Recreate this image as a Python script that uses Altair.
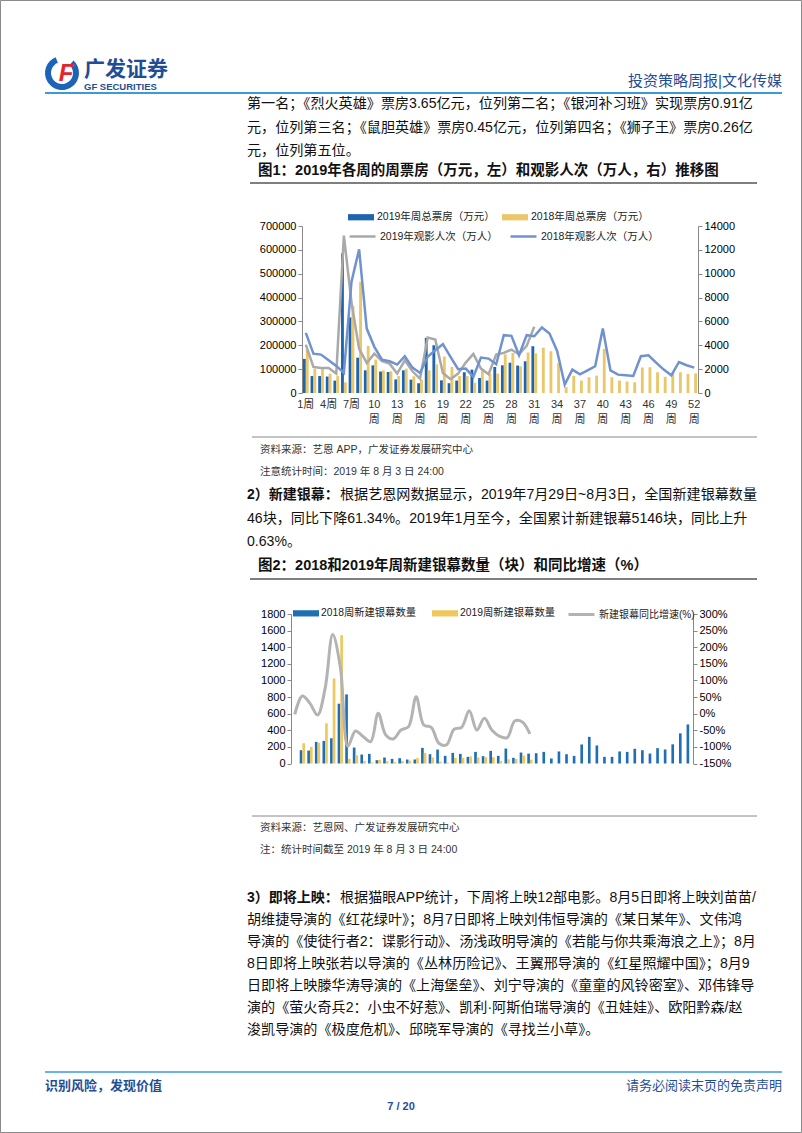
import altair as alt
import pandas as pd

FONT = "Liberation Sans, Noto Sans CJK SC, sans-serif"
W, H = 802, 1133

# ---------------- Chart 1 data ----------------
weeks = list(range(1, 53))
box2019 = [143000, 71000, 71000, 69000, 52000, 585000, 317000, 148000, 95000, 116000,
           90000, 88000, 57000, 95000, 56000, 41000, 231000, 200000, 53000, 41000,
           52000, 87000, 98000, 63000, 52000, 109000, 116000, 127000, 115000, 133000, 196000]
box2018 = [180000, 102000, 102000, 81000, 71000, 45000, 364000, 466000, 197000, 140000,
           95000, 91000, 71000, 102000, 70000, 56000, 95000, 120000, 153000, 109000,
           71000, 71000, 43000, 98000, 81000, 81000, 162000, 168000, 112000, 170000,
           166000, 190000, 175000, 125000, 25000, 72000, 52000, 66000, 73000, 185000,
           66000, 52000, 48000, 45000, 107000, 108000, 87000, 68000, 85000, 87000, 80000, 82000]
aud2019 = [4060, 2185, 2100, 2100, 1625, 13200, 7600, 3700, 2520, 3300, 2660, 2460, 1625,
           2745, 1820, 1200, 4650, 4480, 1680, 1150, 1625, 2550, 3280, 2045, 1570, 3220,
           3360, 3640, 3250, 3950, 5550]
aud2018 = [5040, 3300, 3220, 2745, 2270, 1680, 9330, 12045, 5400, 3870, 2800, 2660, 2380,
           3080, 2130, 1680, 3030, 3585, 4090, 3030, 1990, 2045, 1345, 2970, 2885, 2410,
           4850, 4790, 3165, 4850, 4760, 5490, 4990, 3530, 700, 1960, 1570, 1900, 2240,
           5400, 1900, 1540, 1485, 1430, 3080, 3165, 2550, 1960, 1485, 2600, 2325, 2130]
week_ticks1 = [1, 4, 7, 10, 13, 16, 19, 22, 25, 28, 31, 34, 37, 40, 43, 46, 49, 52]
tick_line1 = ["1周", "4周", "7周", "10", "13", "16", "19", "22", "25", "28", "31", "34",
              "37", "40", "43", "46", "49", "52"]
tick_line2 = ["", "", "", "周", "周", "周", "周", "周", "周", "周", "周", "周", "周", "周",
              "周", "周", "周", "周"]
S_B19, S_B18 = "2019年周总票房（万元）", "2018年周总票房（万元）"
S_L19, S_L18 = "2019年观影人次（万人）", "2018年观影人次（万人）"

# ---------------- Chart 2 data ----------------
cats2 = ["周度"] + [f"{k}-W" for k in range(1, 53)]
cat_labels2 = ["周度", "3-W", "6-W", "9-W", "12-W", "15-W", "18-W", "21-W", "24-W", "27-W",
               "30-W", "33-W", "36-W", "39-W", "42-W", "45-W", "48-W", "51-W"]
screens2018 = [160, 156, 260, 272, 304, 720, 832, 192, 108, 116, 40, 72, 56, 64, 48, 48,
               188, 112, 168, 92, 128, 116, 80, 140, 88, 152, 92, 180, 68, 132, 119, 124,
               140, 60, 145, 112, 92, 229, 321, 217, 80, 80, 145, 140, 177, 160, 120, 185,
               169, 231, 363, 470]
screens2019 = [244, 200, 250, 484, 1024, 1544, 56, 100, 32, 12, 44, 28, 18, 32, 35, 65,
               128, 72, 24, 10, 68, 68, 85, 72, 76, 76, 30, 50, 55, 95, 46]
yoy = [-2, 53, 31, -4, 76, 238, 141, -98, -52, -69, -84, 1, -64, -76, -49, -39, 51, -34,
       -41, -89, -94, -47, -41, 9, -49, -14, -50, -68, -72, -22, -25, -61]
S_S18, S_S19, S_YOY = "2018周新建银幕数量", "2019周新建银幕数量", "新建银幕同比增速(%)"

# ---------------- page text ----------------
para1 = ["第一名；《烈火英雄》票房3.65亿元，位列第二名；《银河补习班》实现票房0.91亿",
         "元，位列第三名；《鼠胆英雄》票房0.45亿元，位列第四名；《狮子王》票房0.26亿",
         "元，位列第五位。"]
para2_head = "2）新建银幕："
para2 = ["根据艺恩网数据显示，2019年7月29日~8月3日，全国新建银幕数量",
         "46块，同比下降61.34%。2019年1月至今，全国累计新建银幕5146块，同比上升",
         "0.63%。"]
para3_head = "3）即将上映："
para3 = ["根据猫眼APP统计，下周将上映12部电影。8月5日即将上映刘苗苗/",
         "胡维捷导演的《红花绿叶》；8月7日即将上映刘伟恒导演的《某日某年》、文伟鸿",
         "导演的《使徒行者2：谍影行动》、汤浅政明导演的《若能与你共乘海浪之上》；8月",
         "8日即将上映张若以导演的《丛林历险记》、王翼邢导演的《红星照耀中国》；8月9",
         "日即将上映滕华涛导演的《上海堡垒》、刘宁导演的《童童的风铃密室》、邓伟锋导",
         "演的《萤火奇兵2：小虫不好惹》、凯利·阿斯伯瑞导演的《丑娃娃》、欧阳黔森/赵",
         "浚凯导演的《极度危机》、邱晓军导演的《寻找兰小草》。"]
fig1_title = "图1：2019年各周的周票房（万元，左）和观影人次（万人，右）推移图"
fig2_title = "图2：2018和2019年周新建银幕数量（块）和同比增速（%）"

NAVY = "#1f4e96"
LBLUE = "#3c9ad6"
BODY = "#111111"

# text rows: (text, x, y, size, color)
normal_left = []
for t, y in zip(para1, [104, 128, 151]):
    normal_left.append((t, 247, y, 14.1, BODY))
normal_left.append((para2[0], 340, 495, 14.1, BODY))
normal_left.append((para2[1], 247, 519, 14.1, BODY))
normal_left.append((para2[2], 247, 542, 14.1, BODY))
normal_left.append((para3[0], 340, 898, 14.1, BODY))
for t, y in zip(para3[1:], [920, 942, 964, 986, 1008, 1030]):
    normal_left.append((t, 247, y, 14.1, BODY))
normal_left += [
    ("资料来源：艺恩 APP，广发证券发展研究中心", 260, 450, 10.5, "#333333"),
    ("注意统计时间：2019 年 8 月 3 日 24:00", 260, 472, 10.5, "#333333"),
    ("资料来源：艺恩网、广发证券发展研究中心", 260, 828, 10.5, "#333333"),
    ("注：统计时间截至 2019 年 8 月 3 日 24:00", 260, 850, 10.5, "#333333"),
]
bold_left = [
    (fig1_title, 258, 171, 14.5, "#111111"),
    (fig2_title, 258, 566, 14.5, "#111111"),
    (para2_head, 247, 495, 14, "#111111"),
    (para3_head, 247, 898, 14, "#111111"),
    ("广发证券", 84, 70, 21, NAVY),
    ("GF SECURITIES", 84, 87, 9.5, NAVY),
    ("识别风险，发现价值", 45, 1086, 13, NAVY),
]
right_text = [
    ("投资策略周报|文化传媒", 782, 81, 15, NAVY),
    ("请务必阅读末页的免责声明", 782, 1086, 13, NAVY),
]
center_bold = [("7 / 20", 401, 1107, 11, NAVY)]

rules = [  # x, x2, y, y2, color, width
    (45, 782, 93, 93, LBLUE, 2),
    (250, 757, 183, 183, "#555555", 1.5),
    (252, 757, 437, 437, "#888888", 1),
    (250, 757, 579, 579, "#555555", 1.5),
    (252, 757, 816, 816, "#888888", 1),
    (45, 782, 1072, 1072, LBLUE, 1.5),
]


def text_layer(rows, align, weight):
    df = pd.DataFrame(rows, columns=["text", "x", "y", "size", "color"])
    return alt.Chart(df).mark_text(align=align, baseline="middle", font=FONT,
                                   fontWeight=weight).encode(
        x=alt.X("x:Q", scale=None, axis=None),
        y=alt.Y("y:Q", scale=None, axis=None),
        text="text:N",
        size=alt.Size("size:Q", scale=None, legend=None),
        color=alt.Color("color:N", scale=None, legend=None),
    )


rule_df = pd.DataFrame(rules, columns=["x", "x2", "y", "y2", "color", "w"])
rule_layer = alt.Chart(rule_df).mark_rule().encode(
    x=alt.X("x:Q", scale=None, axis=None), x2="x2:Q",
    y=alt.Y("y:Q", scale=None, axis=None), y2="y2:Q",
    color=alt.Color("color:N", scale=None, legend=None),
    strokeWidth=alt.StrokeWidth("w:Q", scale=None, legend=None),
)

frame = alt.Chart(pd.DataFrame({"a": [0]})).mark_rect(
    fill="white", fillOpacity=0, stroke="#8a8a8a", strokeWidth=1).encode(
    x=alt.value(0.5), x2=alt.value(801.5), y=alt.value(0.5), y2=alt.value(1132.5))

logo_arc = alt.Chart(pd.DataFrame({"a": [0]})).mark_arc(
    theta=0.75, theta2=5.9, radius=17, radius2=11, color="#1d63b8").encode(
    x=alt.value(62), y=alt.value(73))
logo_f = alt.Chart(pd.DataFrame({"a": [0]})).mark_text(
    text="F", font=FONT, fontWeight="bold", fontStyle="italic", fontSize=24,
    color="#e3262c", align="center", baseline="middle").encode(
    x=alt.value(66), y=alt.value(74))

# ---------------- Chart 1 ----------------
c1_x0, c1_x1, c1_y0, c1_y1 = 302, 698, 393, 226
bars1 = pd.DataFrame({
    "week": weeks[:31] + weeks,
    "series": [S_B19] * 31 + [S_B18] * 52,
    "value": box2019 + box2018,
})
lines1 = pd.DataFrame({
    "week": weeks[:31] + weeks,
    "series": [S_L19] * 31 + [S_L18] * 52,
    "value": aud2019 + aud2018,
})
ticks1 = pd.DataFrame({"week": week_ticks1, "l1": tick_line1, "l2": tick_line2})
x1_scale = alt.Scale(domain=weeks, range=[c1_x0, c1_x1], paddingInner=0.25, paddingOuter=0.125)

bar_symbol = "M-1,-0.24H1V0.24H-1Z"

c1_bars = alt.Chart(bars1).mark_bar().encode(
    x=alt.X("week:O", scale=x1_scale, title=None,
            axis=alt.Axis(orient="bottom", offset=c1_y0 - H, values=week_ticks1,
                          labels=False, tickSize=3,
                          domainColor="#888888", tickColor="#888888")),
    xOffset=alt.XOffset("series:N", scale=alt.Scale(domain=[S_B19, S_B18])),
    y=alt.Y("value:Q", title=None,
            scale=alt.Scale(domain=[0, 700000], range=[c1_y0, c1_y1], nice=False),
            axis=alt.Axis(orient="left", offset=-c1_x0, values=list(range(0, 700001, 100000)),
                          format="d", grid=False, tickSize=4, labelFontSize=11)),
    fill=alt.Fill("series:N", scale=alt.Scale(domain=[S_B19, S_B18], range=["#1f65ad", "#e9c76a"]),
                  legend=alt.Legend(orient="none", legendX=348, legendY=204, direction="horizontal",
                                    title=None, symbolType=bar_symbol, symbolSize=676,
                                    symbolStrokeWidth=0, labelFontSize=10.5, labelOffset=3,
                                    columnPadding=7, labelFont=FONT, labelColor="#222")),
)
c1_lines = alt.Chart(lines1).mark_line(strokeWidth=2.5).encode(
    x=alt.X("week:O", scale=x1_scale, axis=None),
    y=alt.Y("value:Q", title=None,
            scale=alt.Scale(domain=[0, 14000], range=[c1_y0, c1_y1], nice=False),
            axis=alt.Axis(orient="right", offset=c1_x1 - W, values=list(range(0, 14001, 2000)),
                          format="d", grid=False, tickSize=4, labelFontSize=11)),
    stroke=alt.Stroke("series:N", scale=alt.Scale(domain=[S_L19, S_L18], range=["#a9a9a9", "#7092cf"]),
                      legend=alt.Legend(orient="none", legendX=348, legendY=222, direction="horizontal",
                                        title=None, symbolType="stroke", symbolSize=676,
                                        symbolStrokeWidth=2.5, labelFontSize=10.5, labelOffset=3,
                                        columnPadding=7, labelFont=FONT, labelColor="#222")),
)
c1_lab1 = alt.Chart(ticks1).mark_text(font=FONT, fontSize=11, color="#333333",
                                      baseline="middle", align="center").encode(
    x=alt.X("week:O", scale=x1_scale, axis=None), y=alt.value(405), text="l1:N")
c1_lab2 = alt.Chart(ticks1).mark_text(font=FONT, fontSize=11, color="#333333",
                                      baseline="middle", align="center").encode(
    x=alt.X("week:O", scale=x1_scale, axis=None), y=alt.value(420), text="l2:N")
chart1 = alt.layer(c1_bars, c1_lines, c1_lab1, c1_lab2).resolve_scale(y="independent")

# ---------------- Chart 2 ----------------
c2_x0, c2_x1, c2_y0, c2_y1 = 291, 693, 763.5, 614
bars2 = pd.DataFrame({
    "cat": cats2[1:] + cats2[1:32],
    "series": [S_S18] * 52 + [S_S19] * 31,
    "value": screens2018 + screens2019,
})
line2 = pd.DataFrame({"cat": cats2[:32], "series": [S_YOY] * 32, "value": yoy})
x2_scale = alt.Scale(domain=cats2, range=[c2_x0, c2_x1], paddingInner=0.3, paddingOuter=0.15)
shown = "[" + ",".join(f"'{c}'" for c in cat_labels2) + "]"
label2 = f"indexof({shown}, datum.value) >= 0 ? datum.value : ''"

c2_bars = alt.Chart(bars2).mark_bar().encode(
    x=alt.X("cat:N", scale=x2_scale, sort=cats2, title=None,
            axis=alt.Axis(orient="bottom", offset=c2_y0 - H, labelExpr=label2, labelAngle=315,
                          labelAlign="right", labelBaseline="middle", labelFontSize=11,
                          labelOverlap=False, tickSize=4, labelPadding=2,
                          domainColor="#555555", tickColor="#555555")),
    xOffset=alt.XOffset("series:N", scale=alt.Scale(domain=[S_S18, S_S19])),
    y=alt.Y("value:Q", title=None,
            scale=alt.Scale(domain=[0, 1800], range=[c2_y0, c2_y1], nice=False),
            axis=alt.Axis(orient="left", offset=-c2_x0, values=list(range(0, 1801, 200)),
                          format="d", grid=False, tickSize=4, labelFontSize=11)),
    fill=alt.Fill("series:N", scale=alt.Scale(domain=[S_S18, S_S19], range=["#1f6fb5", "#f0c75e"]),
                  legend=alt.Legend(orient="none", legendX=293, legendY=600, direction="horizontal",
                                    title=None, symbolType=bar_symbol, symbolSize=676,
                                    symbolStrokeWidth=0, labelFontSize=10.3, labelOffset=2,
                                    columnPadding=16, labelFont=FONT, labelColor="#222")),
)
c2_line = alt.Chart(line2).mark_line(strokeWidth=3, interpolate="catmull-rom").encode(
    x=alt.X("cat:N", scale=x2_scale, sort=cats2, axis=None),
    y=alt.Y("value:Q", title=None,
            scale=alt.Scale(domain=[-150, 300], range=[c2_y0, c2_y1], nice=False),
            axis=alt.Axis(orient="right", offset=c2_x1 - W, values=list(range(-150, 301, 50)),
                          labelExpr="(datum.value < 0 ? '-' : '') + abs(datum.value) + '%'",
                          grid=False, tickSize=4, labelFontSize=11)),
    stroke=alt.Stroke("series:N", scale=alt.Scale(domain=[S_YOY], range=["#b3b3b3"]),
                      legend=alt.Legend(orient="none", legendX=567, legendY=600, direction="horizontal",
                                        title=None, symbolType="stroke", symbolSize=676,
                                        symbolStrokeWidth=3, labelFontSize=10, labelOffset=3,
                                        labelFont=FONT, labelColor="#222")),
)
chart2 = alt.layer(c2_bars, c2_line).resolve_scale(y="independent")

page = alt.layer(
    frame, rule_layer, logo_arc, logo_f,
    text_layer(normal_left, "left", "normal"),
    text_layer(bold_left, "left", "bold"),
    text_layer(right_text, "right", "normal"),
    text_layer(center_bold, "center", "bold"),
    chart1, chart2,
).resolve_scale(
    x="independent", y="independent", fill="independent", stroke="independent",
    xOffset="independent",
).resolve_axis(x="independent", y="independent").resolve_legend(
    fill="independent", stroke="independent",
).properties(
    width=W, height=H, autosize=alt.AutoSizeParams(type="none"), padding=0,
).configure_view(stroke=None).configure_axis(
    labelFont=FONT, labelColor="#333333", domainColor="#888888", tickColor="#888888",
    grid=False,
).configure(background="white")

page.save("out.html", embed_options={"renderer": "svg", "actions": False})
